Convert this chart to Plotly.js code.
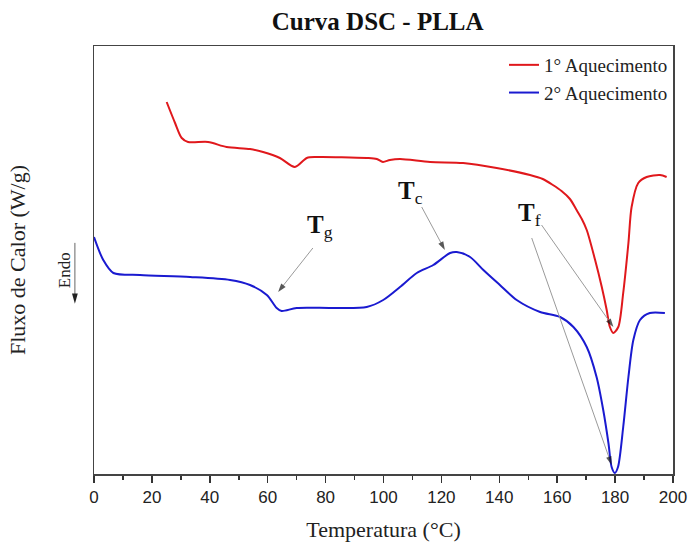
<!DOCTYPE html>
<html>
<head>
<meta charset="utf-8">
<script src="https://cdn.plot.ly/plotly-3.0.1.min.js"></script>
<style>html,body{margin:0;padding:0;background:#fff;}#chart{width:688px;height:547px;}</style>
</head>
<body>
<div id="chart"></div>
<script>
// Temperatura (°C) and heat flow (arbitrary W/g offset units)
var tempHeat1 = [25.1, 28.0, 30.3, 32.5, 39.4, 45.8, 53.9, 58.4, 64.2, 69.4, 73.5, 76.9, 94.2, 97.7, 99.8, 102.2, 105.7, 116.1, 127.5, 139.1, 150.6, 155.0, 158.5, 161.5, 164.4, 166.7, 168.5, 170.2, 173.1, 175.4, 177.1, 178.2, 179.4, 181.1, 182.8, 184.6, 185.7, 188.0, 190.9, 195.5, 197.8];
var flowHeat1 = [3.72, 3.51, 3.36, 3.32, 3.32, 3.27, 3.25, 3.22, 3.16, 3.07, 3.16, 3.17, 3.16, 3.15, 3.12, 3.14, 3.15, 3.12, 3.11, 3.06, 2.99, 2.95, 2.89, 2.83, 2.75, 2.64, 2.55, 2.44, 2.14, 1.87, 1.64, 1.47, 1.41, 1.47, 1.81, 2.31, 2.67, 2.91, 2.97, 2.99, 2.97];

var tempHeat2 = [0.0, 3.2, 6.7, 15.9, 33.2, 47.0, 53.9, 59.7, 63.1, 64.8, 70.0, 82.6, 94.2, 99.9, 105.7, 111.5, 117.2, 123.0, 125.3, 129.9, 134.5, 140.2, 146.0, 154.1, 161.0, 165.6, 170.2, 173.6, 175.9, 177.7, 178.8, 179.9, 181.0, 182.8, 184.6, 186.3, 188.6, 192.0, 197.2];
var flowHeat2 = [2.37, 2.14, 2.01, 1.99, 1.97, 1.94, 1.89, 1.79, 1.66, 1.63, 1.66, 1.66, 1.67, 1.74, 1.87, 2.01, 2.09, 2.21, 2.22, 2.17, 2.04, 1.89, 1.74, 1.62, 1.57, 1.47, 1.27, 0.97, 0.64, 0.31, 0.07, 0.01, 0.07, 0.47, 0.97, 1.34, 1.54, 1.61, 1.61];

var seriesNames = ['1° Aquecimento', '2° Aquecimento'];
var xTickVals = [0, 20, 40, 60, 80, 100, 120, 140, 160, 180, 200];

// Transition labels and their pointer arrows (data units)
var labelMain = ['T', 'T', 'T'];
var labelSub = ['g', 'c', 'f'];
var labelX = [78.0, 109.2, 150.6];
var labelY = [2.48, 2.82, 2.60];
var arrowTailX = [75.6, 113.2, 154.6, 151.2];
var arrowTailY = [2.26, 2.67, 2.49, 2.36];
var arrowHeadX = [63.6, 121.2, 179.4, 178.8];
var arrowHeadY = [1.82, 2.24, 1.47, 0.09];

var SERIF = 'Liberation Serif, Times New Roman, serif';
var SANS = 'Liberation Sans Narrow, Liberation Sans, Arial, sans-serif';

var traces = [
  {x: tempHeat1, y: flowHeat1, name: seriesNames[0], mode: 'lines', line: {color: '#e0181c', width: 2, shape: 'spline', smoothing: 0.8}},
  {x: tempHeat2, y: flowHeat2, name: seriesNames[1], mode: 'lines', line: {color: '#1a1ad0', width: 2, shape: 'spline', smoothing: 0.8}}
];
for (var j = 0; j < arrowHeadX.length; j++) {
  traces.push({
    x: [arrowTailX[j], arrowHeadX[j]], y: [arrowTailY[j], arrowHeadY[j]],
    mode: 'lines+markers', showlegend: false, hoverinfo: 'skip',
    line: {color: '#9a9a9a', width: 1},
    marker: {symbol: 'arrow', angleref: 'previous', size: [0, 9], color: '#111', line: {width: 0}}
  });
}

var annotations = [];
for (var i = 0; i < labelMain.length; i++) {
  annotations.push({x: labelX[i], y: labelY[i], xref: 'x', yref: 'y',
    text: '<b>' + labelMain[i] + '</b><sub>' + labelSub[i] + '</sub>', showarrow: false,
    font: {family: SERIF, size: 25, color: '#111'}});
}
// Endo marker text
annotations.push({x: -0.071, y: 0.477, xref: 'paper', yref: 'paper', text: 'Endo', textangle: -90, showarrow: false,
  font: {family: SERIF, size: 17, color: '#222'}});

var shapes = [
  {type: 'line', xref: 'paper', yref: 'paper', x0: -0.033, x1: -0.033, y0: 0.54, y1: 0.415, line: {color: '#666', width: 1}},
  {type: 'path', xref: 'paper', yref: 'paper', path: 'M -0.038 0.422 L -0.028 0.422 L -0.033 0.398 Z', fillcolor: '#222', line: {width: 0}}
];

var layout = {
  width: 688, height: 547,
  margin: {l: 94, r: 15, t: 46, b: 73},
  paper_bgcolor: '#fff', plot_bgcolor: '#fff',
  title: {text: '<b>Curva DSC - PLLA</b>', font: {family: SERIF, size: 25, color: '#111'}, xref: 'paper', x: 0.49, yref: 'container', y: 0.962, yanchor: 'middle'},
  showlegend: true,
  legend: {x: 1, xanchor: 'right', y: 1, yanchor: 'top', bgcolor: 'rgba(0,0,0,0)', font: {family: SERIF, size: 19, color: '#222'}, tracegroupgap: 0},
  xaxis: {
    range: [0, 200], tickvals: xTickVals, ticks: 'outside', ticklen: 7, tickwidth: 1.5, tickcolor: '#333',
    showline: true, linecolor: '#444', linewidth: 1.5, mirror: true, showgrid: false, zeroline: false,
    tickfont: {family: SANS, size: 17, color: '#222'},
    minor: {dtick: 10, ticks: 'outside', ticklen: 4, tickwidth: 1.5, tickcolor: '#333', showgrid: false},
    title: {text: 'Temperatura (°C)', font: {family: SERIF, size: 22, color: '#222'}, standoff: 15}
  },
  yaxis: {
    range: [0, 4.28], showticklabels: false, ticks: '', showline: true, linecolor: '#444', linewidth: 1.5, mirror: true,
    showgrid: false, zeroline: false,
    title: {text: 'Fluxo de Calor (W/g)', font: {family: SERIF, size: 22, color: '#222'}, standoff: 61}
  },
  annotations: annotations,
  shapes: shapes
};

Plotly.newPlot('chart', traces, layout, {displayModeBar: false, staticPlot: true});
</script>
</body>
</html>
